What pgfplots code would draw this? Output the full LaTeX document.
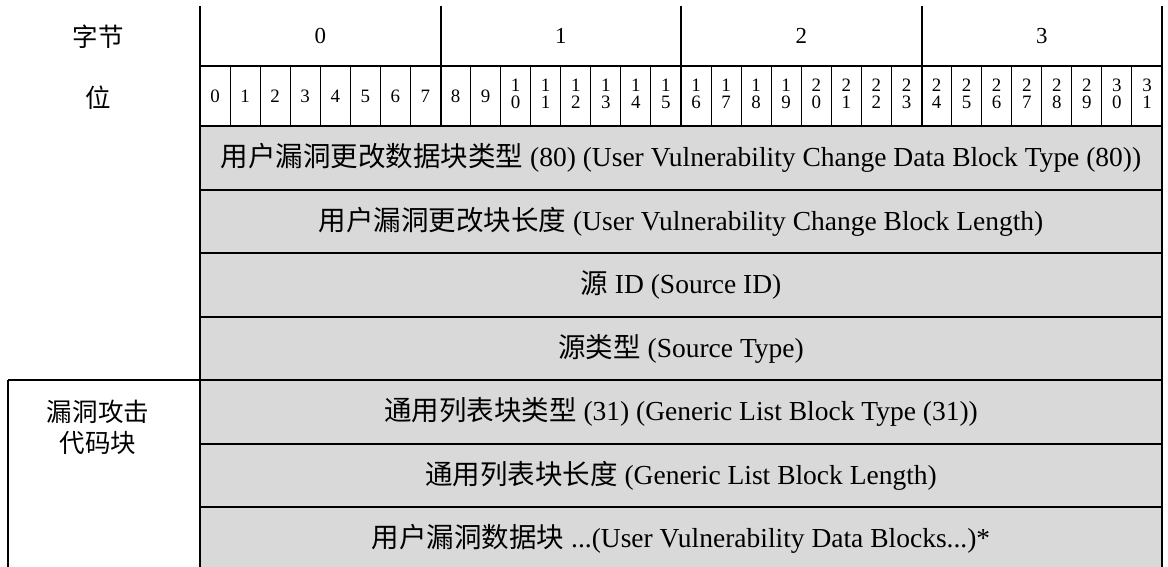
\documentclass[border=0pt]{standalone}
\usepackage{fontspec}
\setmainfont{Liberation Serif}
\newfontfamily\cjk{Noto Sans CJK SC}
\usepackage{pgfplots}
\pgfplotsset{compat=1.18}
\definecolor{cellgray}{RGB}{217,217,217}
\newcommand{\zh}[1]{{\cjk #1}}
\newcommand{\bit}[2]{\node[font=\fontsize{9.5}{9}\selectfont, align=center] at (axis cs:#1,96) {#2};}
\newcommand{\bitt}[3]{\node[font=\fontsize{9.5}{8.6}\selectfont, align=center, inner sep=0pt] at (axis cs:#1,94) {#2\\#3};}
\tikzset{rowtxt/.style={font=\fontsize{13.8}{16}\selectfont}}
\begin{document}
\begin{tikzpicture}
\begin{axis}[width=584bp,height=283.5bp,scale only axis,
  xmin=0,xmax=1168,ymin=0,ymax=567,y dir=reverse,hide axis,clip=true]
\addplot[draw=none] coordinates {(0,0)(1168,567)};
% gray field area
\addplot[fill=cellgray,draw=none] coordinates {(200,126)(1162,126)(1162,600)(200,600)} -- cycle;
% thin bit separators
\addplot[black,line width=0.5bp,unbounded coords=jump] coordinates {
(230.06,66)(230.06,126) (nan,nan)
(260.13,66)(260.13,126) (nan,nan)
(290.19,66)(290.19,126) (nan,nan)
(320.25,66)(320.25,126) (nan,nan)
(350.31,66)(350.31,126) (nan,nan)
(380.38,66)(380.38,126) (nan,nan)
(410.44,66)(410.44,126) (nan,nan)
(470.56,66)(470.56,126) (nan,nan)
(500.63,66)(500.63,126) (nan,nan)
(530.69,66)(530.69,126) (nan,nan)
(560.75,66)(560.75,126) (nan,nan)
(590.81,66)(590.81,126) (nan,nan)
(620.88,66)(620.88,126) (nan,nan)
(650.94,66)(650.94,126) (nan,nan)
(711.06,66)(711.06,126) (nan,nan)
(741.13,66)(741.13,126) (nan,nan)
(771.19,66)(771.19,126) (nan,nan)
(801.25,66)(801.25,126) (nan,nan)
(831.31,66)(831.31,126) (nan,nan)
(861.38,66)(861.38,126) (nan,nan)
(891.44,66)(891.44,126) (nan,nan)
(951.56,66)(951.56,126) (nan,nan)
(981.63,66)(981.63,126) (nan,nan)
(1011.69,66)(1011.69,126) (nan,nan)
(1041.75,66)(1041.75,126) (nan,nan)
(1071.81,66)(1071.81,126) (nan,nan)
(1101.88,66)(1101.88,126) (nan,nan)
(1131.94,66)(1131.94,126)
};
% thin horizontal lines
\addplot[black,line width=0.6bp] coordinates {(200,507)(1162,507)};
\addplot[black,line width=0.8bp] coordinates {(200,253)(1162,253)};
% thick lines
\addplot[black,line width=1bp,unbounded coords=jump] coordinates {
(200,6)(200,600) (nan,nan)
(1162,6)(1162,600) (nan,nan)
(440.5,6)(440.5,126) (nan,nan)
(681,6)(681,126) (nan,nan)
(921.5,6)(921.5,126) (nan,nan)
(200,66)(1162,66) (nan,nan)
(200,126)(1162,126) (nan,nan)
(200,190)(1162,190) (nan,nan)
(200,317)(1162,317) (nan,nan)
(8,380)(1162,380) (nan,nan)
(200,444)(1162,444) (nan,nan)
(8,380)(8,600)
};
% left labels
\node[font=\fontsize{12.8}{15}\selectfont] at (axis cs:98,37) {\zh{字节}};
\node[font=\fontsize{12.8}{15}\selectfont] at (axis cs:98,98) {\zh{位}};
\node[font=\fontsize{12.8}{15.5}\selectfont, align=center] at (axis cs:98,427) {\zh{漏洞攻击}\\\zh{代码块}};
% byte labels
\node[font=\fontsize{11.5}{13}\selectfont] at (axis cs:320.25,36) {0};
\node[font=\fontsize{11.5}{13}\selectfont] at (axis cs:560.75,36) {1};
\node[font=\fontsize{11.5}{13}\selectfont] at (axis cs:801.25,36) {2};
\node[font=\fontsize{11.5}{13}\selectfont] at (axis cs:1041.75,36) {3};
% bit labels
\bit{215.03}{0}
\bit{245.09}{1}
\bit{275.16}{2}
\bit{305.22}{3}
\bit{335.28}{4}
\bit{365.34}{5}
\bit{395.41}{6}
\bit{425.47}{7}
\bit{455.53}{8}
\bit{485.59}{9}
\bitt{515.66}{1}{0}
\bitt{545.72}{1}{1}
\bitt{575.78}{1}{2}
\bitt{605.84}{1}{3}
\bitt{635.91}{1}{4}
\bitt{665.97}{1}{5}
\bitt{696.03}{1}{6}
\bitt{726.09}{1}{7}
\bitt{756.16}{1}{8}
\bitt{786.22}{1}{9}
\bitt{816.28}{2}{0}
\bitt{846.34}{2}{1}
\bitt{876.41}{2}{2}
\bitt{906.47}{2}{3}
\bitt{936.53}{2}{4}
\bitt{966.59}{2}{5}
\bitt{996.66}{2}{6}
\bitt{1026.72}{2}{7}
\bitt{1056.78}{2}{8}
\bitt{1086.84}{2}{9}
\bitt{1116.91}{3}{0}
\bitt{1146.97}{3}{1}
% field texts
\node[rowtxt] at (axis cs:681,158) {\zh{用户漏洞更改数据块类型} (80) (User Vulnerability Change Data Block Type (80))};
\node[rowtxt] at (axis cs:681,221.5) {\zh{用户漏洞更改块长度} (User Vulnerability Change Block Length)};
\node[rowtxt] at (axis cs:681,285) {\zh{源} ID (Source ID)};
\node[rowtxt] at (axis cs:681,348.5) {\zh{源类型} (Source Type)};
\node[rowtxt] at (axis cs:681,412) {\zh{通用列表块类型} (31) (Generic List Block Type (31))};
\node[rowtxt] at (axis cs:681,475.5) {\zh{通用列表块长度} (Generic List Block Length)};
\node[rowtxt] at (axis cs:681,539) {\zh{用户漏洞数据块} ...(User Vulnerability Data Blocks...)*};
\end{axis}
\end{tikzpicture}
\end{document}
